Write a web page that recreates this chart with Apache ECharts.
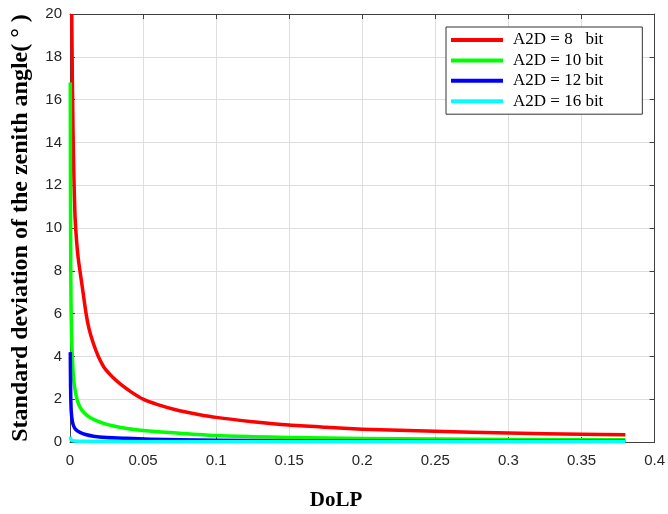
<!DOCTYPE html>
<html>
<head>
<meta charset="utf-8">
<script src="https://cdn.jsdelivr.net/npm/echarts@6/dist/echarts.min.js"></script>
<style>html,body{margin:0;padding:0;background:#fff;}#c{width:668px;height:514px;}</style>
</head>
<body>
<div id="c"></div>
<script>
// Data: [DoLP, std of zenith angle (deg)]
const seriesNames = ['A2D = 8   bit', 'A2D = 10 bit', 'A2D = 12 bit', 'A2D = 16 bit'];
const xTicks = [0, 0.05, 0.1, 0.15, 0.2, 0.25, 0.3, 0.35, 0.4];
const yTicks = [0, 2, 4, 6, 8, 10, 12, 14, 16, 18, 20];

const red8 = [
  [0.0012, 20], [0.0016, 17], [0.0021, 14.5], [0.0027, 12.3], [0.0034, 10.6],
  [0.0045, 9.4], [0.0056, 8.6], [0.0068, 8.0], [0.0085, 7.2], [0.011, 6.0],
  [0.013, 5.3], [0.016, 4.6], [0.0194, 4.0], [0.024, 3.42], [0.0296, 3.0],
  [0.035, 2.68], [0.042, 2.33], [0.05, 2.0], [0.06, 1.75], [0.075, 1.46],
  [0.087, 1.3], [0.1, 1.15], [0.125, 0.95], [0.15, 0.79], [0.175, 0.69],
  [0.2, 0.6], [0.25, 0.5], [0.3, 0.42], [0.35, 0.36], [0.38, 0.34]
];
const green10 = [
  [0.0002, 16.8], [0.0003, 12.5], [0.0004, 10], [0.0005, 8.5], [0.0007, 6.5],
  [0.001, 5.2], [0.0013, 4.5], [0.0016, 4.0], [0.0023, 3.1], [0.0032, 2.55],
  [0.0046, 2.05], [0.006, 1.75], [0.008, 1.5], [0.011, 1.28], [0.014, 1.13],
  [0.018, 1.0], [0.024, 0.85], [0.03, 0.75], [0.04, 0.62], [0.05, 0.54],
  [0.062, 0.47], [0.075, 0.41], [0.1, 0.3], [0.125, 0.25], [0.15, 0.21],
  [0.2, 0.16], [0.25, 0.14], [0.3, 0.12], [0.38, 0.1]
];
const blue12 = [
  [0.0002, 4.2], [0.0003, 3.3], [0.0004, 2.6], [0.0005, 2.15], [0.0007, 1.65],
  [0.001, 1.3], [0.0015, 1.02], [0.0023, 0.78], [0.0035, 0.62], [0.005, 0.52],
  [0.0068, 0.45], [0.01, 0.36], [0.016, 0.27], [0.025, 0.21], [0.039, 0.17],
  [0.055, 0.13], [0.075, 0.1], [0.1, 0.08], [0.15, 0.06], [0.25, 0.04], [0.38, 0.03]
];
const cyan16 = [
  [0.0002, 0.26], [0.0005, 0.14], [0.001, 0.08], [0.003, 0.05], [0.01, 0.03],
  [0.05, 0.015], [0.2, 0.01], [0.38, 0.006]
];
const colors = ['#ff0000', '#00ff00', '#0000ff', '#00ffff'];

const chart = echarts.init(document.getElementById('c'), null, {renderer: 'canvas'});
const axisColor = '#404040';
const labelStyle = {color: '#262626', fontFamily: 'Liberation Sans, Arial, sans-serif', fontSize: 15};
const gridLine = {show: true, lineStyle: {color: '#dedede', width: 1}};

function mkSeries(name, data, color) {
  return {
    name: name, type: 'line', data: data, showSymbol: false, symbol: 'none',
    smooth: 0.2, clip: true,
    lineStyle: {color: color, width: 3.5, join: 'round', cap: 'butt'}, itemStyle: {color: color},
    animation: false, xAxisIndex: 0, yAxisIndex: 0
  };
}

chart.setOption({
  animation: false,
  backgroundColor: '#fff',
  grid: {left: 70, right: 13, top: 14, bottom: 72, containLabel: false},
  title: {
    text: 'DoLP', left: 331, top: 485, textAlign: 'center',
    textStyle: {fontFamily: 'Liberation Serif, Times New Roman, serif', fontWeight: 'bold', fontSize: 21, color: '#000'}
  },
  legend: {
    orient: 'vertical', left: 446, top: 27,
    padding: [3, 39, 3, 5], itemGap: 0.4,
    itemWidth: 52, itemHeight: 4, icon: 'rect',
    backgroundColor: '#fff', borderColor: '#333', borderWidth: 1,
    textStyle: {fontFamily: 'Liberation Serif, Times New Roman, serif', fontSize: 17, color: '#000', lineHeight: 20, padding: [0, 0, 0, 5]},
    data: seriesNames
  },
  xAxis: [{
    type: 'value', min: xTicks[0], max: xTicks[xTicks.length - 1], interval: 0.05,
    axisLine: {show: true, onZero: false, lineStyle: {color: axisColor, width: 1}},
    axisTick: {show: true, inside: true, length: 5, lineStyle: {color: axisColor}},
    axisLabel: Object.assign({margin: 11, formatter: v => String(+v.toFixed(2))}, labelStyle),
    splitLine: gridLine
  }, {
    type: 'value', position: 'top', min: xTicks[0], max: xTicks[xTicks.length - 1], interval: 0.05,
    axisLine: {show: true, onZero: false, lineStyle: {color: axisColor, width: 1}},
    axisTick: {show: true, inside: true, length: 5, lineStyle: {color: axisColor}},
    axisLabel: {show: false}, splitLine: {show: false}
  }],
  yAxis: [{
    type: 'value', min: yTicks[0], max: yTicks[yTicks.length - 1], interval: 2,
    name: 'Standard deviation of the zenith angle( ° )',
    nameLocation: 'middle', nameGap: 37,
    nameTextStyle: {fontFamily: 'Liberation Serif, Times New Roman, serif', fontWeight: 'bold', fontSize: 24, color: '#000'},
    axisLine: {show: true, onZero: false, lineStyle: {color: axisColor, width: 1}},
    axisTick: {show: true, inside: true, length: 5, lineStyle: {color: axisColor}},
    axisLabel: Object.assign({margin: 8}, labelStyle),
    splitLine: gridLine
  }, {
    type: 'value', position: 'right', min: yTicks[0], max: yTicks[yTicks.length - 1], interval: 2,
    axisLine: {show: true, onZero: false, lineStyle: {color: axisColor, width: 1}},
    axisTick: {show: true, inside: true, length: 5, lineStyle: {color: axisColor}},
    axisLabel: {show: false}, splitLine: {show: false}
  }],
  series: [
    mkSeries(seriesNames[0], red8, colors[0]),
    mkSeries(seriesNames[1], green10, colors[1]),
    mkSeries(seriesNames[2], blue12, colors[2]),
    mkSeries(seriesNames[3], cyan16, colors[3])
  ]
});
</script>
</body>
</html>
